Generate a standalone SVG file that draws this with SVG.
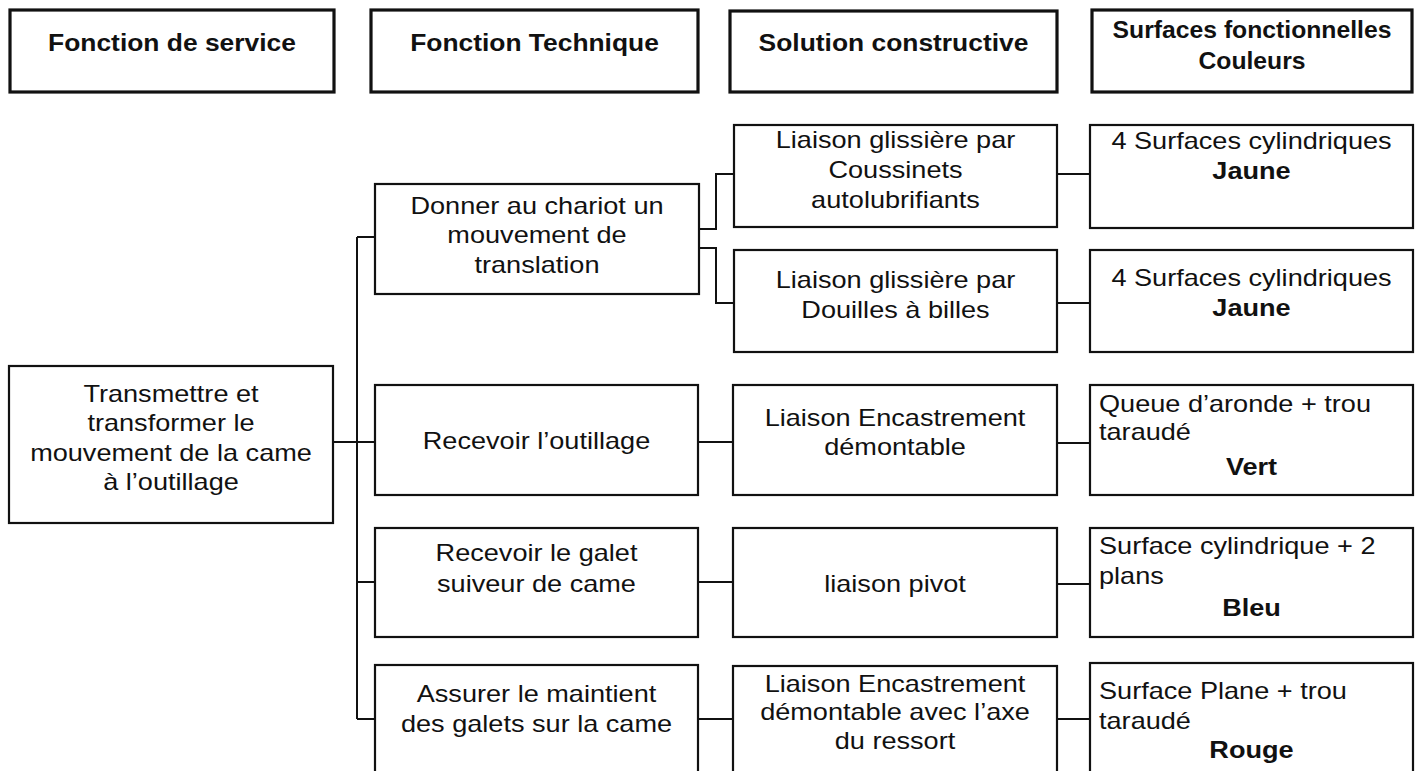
<svg xmlns="http://www.w3.org/2000/svg" width="1419" height="771" viewBox="0 0 1419 771">
<style>
rect{fill:#fff;stroke:#111;stroke-width:2.2}
rect.h{stroke-width:3.2}
text{font-family:"Liberation Sans",Arial,sans-serif;font-size:24px;fill:#111}
.c{text-anchor:middle}
.b{font-weight:bold}
#connectors path{fill:none;stroke:#111;stroke-width:2}
</style>
<rect x="0" y="0" width="1419" height="771" style="fill:#fff;stroke:none"/>
<g id="connectors">
<path d="M333,442 H375"/>
<path d="M357,237 V719"/>
<path d="M357,237 H375"/>
<path d="M357,582 H375"/>
<path d="M357,719 H375"/>
<path d="M699,229 H716 V174 H734"/>
<path d="M699,248 H716 V303 H734"/>
<path d="M1057,174 H1090"/>
<path d="M1057,303 H1090"/>
<path d="M698,442 H733"/>
<path d="M1057,443 H1090"/>
<path d="M698,582 H733"/>
<path d="M1057,584 H1090"/>
<path d="M698,719 H733"/>
<path d="M1057,719 H1090"/>
</g>
<g id="h1"><rect class="h" x="10" y="10" width="324" height="82"/>
<text class="c b" transform="translate(172 51) scale(1.1 1)">Fonction de service</text></g>
<g id="h2"><rect class="h" x="371" y="10" width="327" height="82"/>
<text class="c b" transform="translate(534.5 51) scale(1.1 1)">Fonction Technique</text></g>
<g id="h3"><rect class="h" x="730" y="11" width="327" height="81"/>
<text class="c b" transform="translate(893.5 51) scale(1.1 1)">Solution constructive</text></g>
<g id="h4"><rect class="h" x="1092" y="10" width="320" height="82"/>
<text class="c b" transform="translate(1252 38) scale(1.03 1)"><tspan x="0" y="0">Surfaces fonctionnelles</tspan><tspan x="0" y="31">Couleurs</tspan></text></g>

<g id="fs"><rect x="9" y="366" width="324" height="157"/>
<text class="c" transform="translate(171 402) scale(1.13 1)"><tspan x="0" y="0">Transmettre et</tspan><tspan x="0" y="29.5">transformer le</tspan><tspan x="0" y="59">mouvement de la came</tspan><tspan x="0" y="88.5">à l’outillage</tspan></text></g>

<g id="ft1"><rect x="375" y="184" width="324" height="110"/>
<text class="c" transform="translate(537 214) scale(1.13 1)"><tspan x="0" y="0">Donner au chariot un</tspan><tspan x="0" y="29.5">mouvement de</tspan><tspan x="0" y="59">translation</tspan></text></g>
<g id="ft2"><rect x="375" y="385" width="323" height="110"/>
<text class="c" transform="translate(536.5 449) scale(1.13 1)">Recevoir l’outillage</text></g>
<g id="ft3"><rect x="375" y="528" width="323" height="109"/>
<text class="c" transform="translate(536.5 561) scale(1.13 1)"><tspan x="0" y="0">Recevoir le galet</tspan><tspan x="0" y="31">suiveur de came</tspan></text></g>
<g id="ft4"><rect x="375" y="665" width="323" height="130"/>
<text class="c" transform="translate(536.5 702) scale(1.13 1)"><tspan x="0" y="0">Assurer le maintient</tspan><tspan x="0" y="30">des galets sur la came</tspan></text></g>

<g id="sc1"><rect x="734" y="125" width="323" height="102"/>
<text class="c" transform="translate(895.5 148) scale(1.13 1)"><tspan x="0" y="0">Liaison glissière par</tspan><tspan x="0" y="30">Coussinets</tspan><tspan x="0" y="60">autolubrifiants</tspan></text></g>
<g id="sc2"><rect x="734" y="250" width="323" height="102"/>
<text class="c" transform="translate(895.5 288) scale(1.13 1)"><tspan x="0" y="0">Liaison glissière par</tspan><tspan x="0" y="30">Douilles à billes</tspan></text></g>
<g id="sc3"><rect x="733" y="385" width="324" height="110"/>
<text class="c" transform="translate(895 426) scale(1.13 1)"><tspan x="0" y="0">Liaison Encastrement</tspan><tspan x="0" y="29">démontable</tspan></text></g>
<g id="sc4"><rect x="733" y="528" width="324" height="109"/>
<text class="c" transform="translate(895 592) scale(1.13 1)">liaison pivot</text></g>
<g id="sc5"><rect x="733" y="666" width="324" height="130"/>
<text class="c" transform="translate(895 692) scale(1.13 1)"><tspan x="0" y="0">Liaison Encastrement</tspan><tspan x="0" y="28.5">démontable avec l’axe</tspan><tspan x="0" y="57">du ressort</tspan></text></g>

<g id="sf1"><rect x="1090" y="125" width="323" height="103"/>
<text class="c" transform="translate(1251.5 149) scale(1.13 1)"><tspan x="0" y="0">4 Surfaces cylindriques</tspan><tspan class="b" x="0" y="30">Jaune</tspan></text></g>
<g id="sf2"><rect x="1090" y="250" width="323" height="102"/>
<text class="c" transform="translate(1251.5 286) scale(1.13 1)"><tspan x="0" y="0">4 Surfaces cylindriques</tspan><tspan class="b" x="0" y="30">Jaune</tspan></text></g>
<g id="sf3"><rect x="1090" y="385" width="323" height="110"/>
<text transform="translate(1099 412) scale(1.13 1)"><tspan x="0" y="0">Queue d’aronde + trou</tspan><tspan x="0" y="28.5">taraudé</tspan></text>
<text class="c b" transform="translate(1251.5 475) scale(1.13 1)">Vert</text></g>
<g id="sf4"><rect x="1090" y="528" width="323" height="109"/>
<text transform="translate(1099 554) scale(1.13 1)"><tspan x="0" y="0">Surface cylindrique + 2</tspan><tspan x="0" y="30">plans</tspan></text>
<text class="c b" transform="translate(1251.5 616) scale(1.13 1)">Bleu</text></g>
<g id="sf5"><rect x="1090" y="663" width="323" height="130"/>
<text transform="translate(1099 699) scale(1.13 1)"><tspan x="0" y="0">Surface Plane + trou</tspan><tspan x="0" y="30">taraudé</tspan></text>
<text class="c b" transform="translate(1251.5 758) scale(1.13 1)">Rouge</text></g>
</svg>
